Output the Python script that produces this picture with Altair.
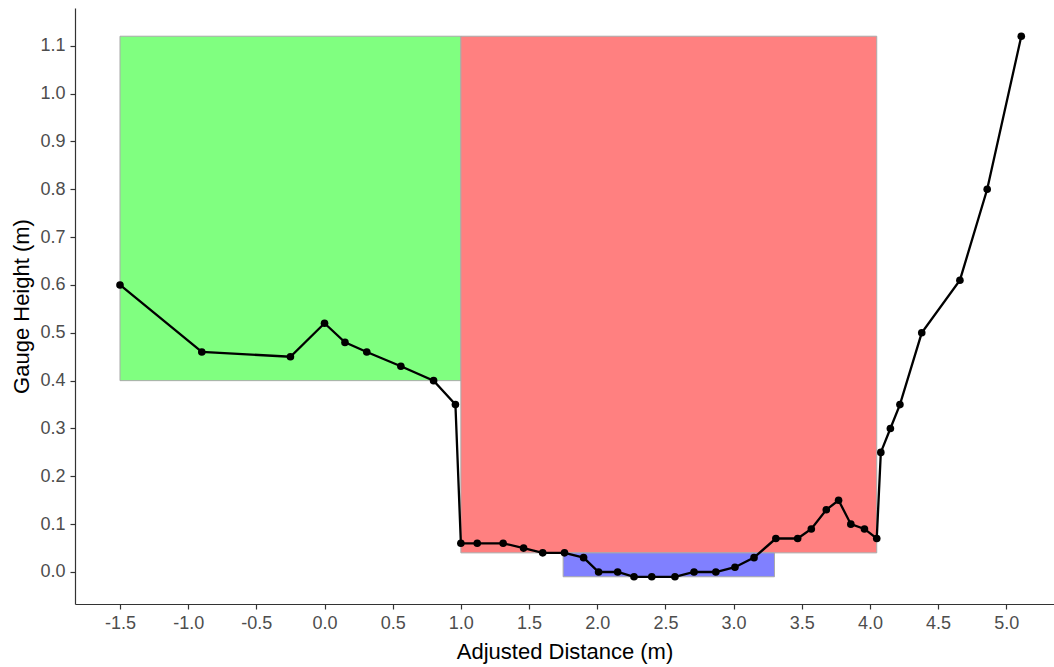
import altair as alt
import pandas as pd

# Cross-section profile
dist = [-1.5, -0.9, -0.25, 0.0, 0.15, 0.31, 0.56, 0.8, 0.96, 1.0, 1.12, 1.31, 1.46, 1.6,
        1.76, 1.9, 2.01, 2.15, 2.27, 2.4, 2.57, 2.71, 2.87, 3.01, 3.15, 3.31, 3.47,
        3.57, 3.68, 3.77, 3.86, 3.96, 4.05, 4.08, 4.15, 4.22, 4.38, 4.66, 4.86, 5.11]
height = [0.60, 0.46, 0.45, 0.52, 0.48, 0.46, 0.43, 0.40, 0.35, 0.06, 0.06, 0.06, 0.05, 0.04,
          0.04, 0.03, 0.0, 0.0, -0.01, -0.01, -0.01, 0.0, 0.0, 0.01, 0.03, 0.07, 0.07,
          0.09, 0.13, 0.15, 0.10, 0.09, 0.07, 0.25, 0.30, 0.35, 0.50, 0.61, 0.80, 1.12]

# Shaded regions
rect_x1 = [-1.5, 1.0, 1.75]
rect_x2 = [1.0, 4.05, 3.3]
rect_y1 = [0.40, 0.04, -0.01]
rect_y2 = [1.12, 1.12, 0.04]
rect_fill = ["#80ff80", "#ff8080", "#8080ff"]

profile = pd.DataFrame({"x": dist, "y": height, "i": list(range(len(dist)))})
rects = pd.DataFrame({"x1": rect_x1, "x2": rect_x2, "y1": rect_y1, "y2": rect_y2, "fill": rect_fill})

xscale = alt.Scale(domain=[-1.83, 5.35], nice=False, zero=False)
yscale = alt.Scale(domain=[-0.0669, 1.179], nice=False, zero=False)

lab = "datum.value < 0 ? '-' + format(-datum.value, '.1f') : format(datum.value, '.1f')"
xaxis = alt.Axis(values=[v / 2 for v in range(-3, 11)], labelExpr=lab,
                 title="Adjusted Distance (m)", grid=False)
yaxis = alt.Axis(values=[v / 10 for v in range(0, 12)], labelExpr=lab,
                 title="Gauge Height (m)", grid=False)

rect_layer = alt.Chart(rects).mark_rect(stroke="#aaaaaa", strokeWidth=1).encode(
    x=alt.X("x1:Q", scale=xscale, axis=xaxis),
    x2="x2:Q",
    y=alt.Y("y1:Q", scale=yscale, axis=yaxis),
    y2="y2:Q",
    fill=alt.Fill("fill:N", scale=None),
)

line_layer = alt.Chart(profile).mark_line(color="black", strokeWidth=2.3).encode(
    x=alt.X("x:Q", scale=xscale),
    y=alt.Y("y:Q", scale=yscale),
    order="i:Q",
)

point_layer = alt.Chart(profile).mark_circle(color="black", opacity=1, size=58).encode(
    x=alt.X("x:Q", scale=xscale),
    y=alt.Y("y:Q", scale=yscale),
)

chart = alt.layer(rect_layer, line_layer, point_layer).properties(
    width=979, height=596,
    autosize=alt.AutoSizeParams(type="none"),
    padding={"left": 75, "top": 8, "right": 0, "bottom": 63},
    background="white",
).configure_view(stroke=None).configure_axis(
    domainColor="#333333", domainWidth=1.2,
    tickColor="#333333", tickSize=5, tickWidth=1.2,
    labelColor="#4d4d4d", labelFont="Liberation Sans", labelFontSize=18,
    labelPadding=5,
    titleColor="black", titleFont="Liberation Sans", titleFontSize=22,
    titleFontWeight="normal",
).configure_axisX(titlePadding=9).configure_axisY(titlePadding=6)

chart.save("out.html", embed_options={"renderer": "svg", "actions": False})
